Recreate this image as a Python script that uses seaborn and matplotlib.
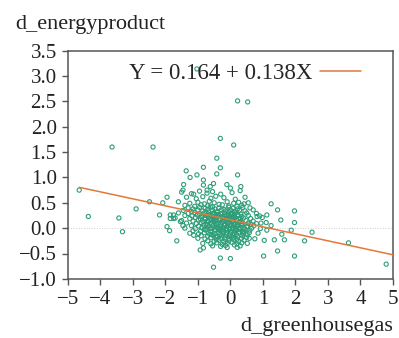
import numpy as np
import pandas as pd
import matplotlib
matplotlib.use("Agg")
import matplotlib.pyplot as plt
import seaborn as sns

# ---- data ----
# scattered points away from the central cloud
gh_outer = [-4.65, -4.37, -3.64, -3.43, -3.32, -2.90, -2.49, -2.38, -2.18, -2.08,
            -1.95, -1.95, -1.87, -1.85, -1.75, -1.85, -1.75, -1.65, -1.03, 0.22,
            0.53, -0.31, 0.10, -0.42, -1.36, -0.83, -0.31, -1.24, -1.03, -0.42,
            0.22, -0.83, -0.83, -1.44, -1.46, -0.11, 0.00, 0.32, -0.62, -0.72,
            -0.52, -0.52, -0.31, 0.00, -0.93, -0.83, -0.10, 0.21, 1.02, 1.25,
            1.12, 1.04, 1.25, 1.35, 1.45, 1.45, 1.55, 1.58, 1.66, 1.87,
            1.97, 1.97, 1.97, 2.28, 2.51, 3.63, 4.79, -1.13, -1.13, -1.54,
            -1.46, 0.82, 0.94, 1.12, 0.58, 0.52, 0.62]
ep_outer = [0.75, 0.23, 1.60, 0.20, -0.07, 0.38, 0.52, 1.60, 0.26, 0.50,
            0.61, 0.03, -0.05, 0.26, 0.26, 0.19, 0.19, -0.25, 3.14, 2.51,
            2.49, 1.77, 1.64, 1.38, 1.13, 1.20, 1.19, 1.00, 1.05, 1.07,
            1.05, 0.95, 0.85, 0.86, 0.75, 0.86, 0.79, 0.82, 0.82, 0.75,
            0.88, -0.77, -0.59, -0.60, -0.43, -0.39, -0.38, -0.38, -0.55, 0.48,
            0.26, -0.24, 0.05, -0.23, 0.36, -0.45, 0.16, -0.12, -0.23, -0.04,
            0.34, 0.11, -0.55, -0.25, -0.08, -0.29, -0.71, -0.14, 0.67, 0.13,
            0.05, 0.23, 0.10, -0.04, -0.20, -0.30, 0.08]

# dense cloud around the origin
gh_core = [-1.50, -1.20, -0.95, -0.72, -0.55, -0.30, 0.05, 0.30,
           -1.35, -1.05, -0.85, -0.60, -0.45, -0.20, 0.15, 0.45,
           -1.60, -1.25, -1.00, -0.80, -0.65, -0.50, -0.35, -0.10, 0.10, 0.25, 0.42, 0.55,
           -1.40, -1.10, -0.90, -0.70, -0.55, -0.25, -0.05, 0.20, 0.35,
           -1.30, -1.15, -0.95, -0.78, -0.62, -0.48, -0.35, -0.20, -0.05, 0.08, 0.22, 0.38, 0.60,
           -1.45, -1.20, -1.00, -0.85, -0.70, -0.55, -0.40, -0.28, -0.15, 0.00, 0.12, 0.28, 0.45, 0.70,
           -1.60, -1.30, -1.10, -0.95, -0.80, -0.66, -0.52, -0.40, -0.30, -0.18, -0.05, 0.05, 0.18, 0.32, 0.50, 0.80,
           -1.40, -1.18, -1.02, -0.88, -0.74, -0.60, -0.48, -0.36, -0.24, -0.12, 0.00, 0.10, 0.22, 0.35, 0.55, 0.90,
           -1.70, -1.25, -1.08, -0.92, -0.78, -0.64, -0.52, -0.42, -0.30, -0.20, -0.08, 0.04, 0.14, 0.26, 0.40, 0.62, 0.98,
           -1.50, -1.15, -0.98, -0.84, -0.70, -0.58, -0.46, -0.34, -0.22, -0.12, -0.02, 0.08, 0.20, 0.32, 0.48, 0.70,
           -1.35, -1.05, -0.90, -0.75, -0.62, -0.50, -0.38, -0.26, -0.16, -0.06, 0.04, 0.14, 0.26, 0.38, 0.55, 0.80, 1.10,
           -1.20, -0.98, -0.82, -0.68, -0.54, -0.42, -0.30, -0.20, -0.10, 0.00, 0.10, 0.20, 0.34, 0.50, 0.72,
           -1.40, -1.08, -0.88, -0.72, -0.58, -0.44, -0.32, -0.22, -0.12, -0.02, 0.08, 0.18, 0.30, 0.45, 0.65, 0.92,
           -1.15, -0.92, -0.76, -0.60, -0.46, -0.34, -0.22, -0.10, 0.02, 0.14, 0.28, 0.42, 0.60,
           -1.25, -0.98, -0.80, -0.64, -0.50, -0.36, -0.24, -0.12, 0.00, 0.12, 0.26, 0.40, 0.58, 0.85,
           -0.90, -0.70, -0.54, -0.40, -0.28, -0.14, -0.02, 0.10, 0.22, 0.36, 0.52,
           -1.00, -0.78, -0.60, -0.44, -0.30, -0.16, -0.04, 0.08, 0.20, 0.34, 0.50, 0.75,
           -0.70, -0.50, -0.35, -0.20, -0.05, 0.10, 0.25, 0.42,
           -0.85, -0.60, -0.42, -0.25, -0.10, 0.05, 0.20, 0.35,
           -0.55, -0.30, -0.15, 0.12, 0.30]
ep_core = [0.71, 0.68, 0.73, 0.69, 0.72, 0.67, 0.70, 0.74,
           0.61, 0.58, 0.62, 0.59, 0.63, 0.60, 0.57, 0.61,
           0.52, 0.49, 0.51, 0.48, 0.53, 0.50, 0.47, 0.52, 0.49, 0.51, 0.48, 0.50,
           0.45, 0.43, 0.46, 0.44, 0.42, 0.46, 0.44, 0.43, 0.45,
           0.40, 0.38, 0.41, 0.39, 0.42, 0.38, 0.40, 0.37, 0.41, 0.39, 0.38, 0.41, 0.40,
           0.35, 0.33, 0.36, 0.34, 0.37, 0.35, 0.33, 0.36, 0.34, 0.36, 0.33, 0.35, 0.34, 0.36,
           0.30, 0.29, 0.31, 0.28, 0.30, 0.32, 0.29, 0.31, 0.28, 0.30, 0.32, 0.29, 0.31, 0.28, 0.30, 0.29,
           0.25, 0.24, 0.26, 0.23, 0.25, 0.27, 0.24, 0.26, 0.23, 0.25, 0.27, 0.24, 0.26, 0.23, 0.25, 0.24,
           0.20, 0.19, 0.21, 0.18, 0.20, 0.22, 0.19, 0.21, 0.18, 0.20, 0.22, 0.19, 0.21, 0.18, 0.20, 0.19, 0.21,
           0.15, 0.14, 0.16, 0.13, 0.15, 0.17, 0.14, 0.16, 0.13, 0.15, 0.17, 0.14, 0.16, 0.13, 0.15, 0.14,
           0.10, 0.09, 0.11, 0.08, 0.10, 0.12, 0.09, 0.11, 0.08, 0.10, 0.12, 0.09, 0.11, 0.08, 0.10, 0.09, 0.11,
           0.05, 0.04, 0.06, 0.03, 0.05, 0.07, 0.04, 0.06, 0.03, 0.05, 0.07, 0.04, 0.06, 0.03, 0.05,
           0.00, -0.01, 0.01, -0.02, 0.00, 0.02, -0.01, 0.01, -0.02, 0.00, 0.02, -0.01, 0.01, -0.02, 0.00, -0.01,
           -0.05, -0.06, -0.04, -0.07, -0.05, -0.03, -0.06, -0.04, -0.07, -0.05, -0.03, -0.06, -0.04,
           -0.10, -0.11, -0.09, -0.12, -0.10, -0.08, -0.11, -0.09, -0.12, -0.10, -0.08, -0.11, -0.09, -0.10,
           -0.15, -0.16, -0.14, -0.17, -0.15, -0.13, -0.16, -0.14, -0.17, -0.15, -0.13,
           -0.20, -0.21, -0.19, -0.22, -0.20, -0.18, -0.21, -0.19, -0.22, -0.20, -0.18, -0.21,
           -0.25, -0.26, -0.24, -0.27, -0.25, -0.23, -0.26, -0.24,
           -0.30, -0.31, -0.29, -0.32, -0.30, -0.28, -0.31, -0.29,
           -0.35, -0.36, -0.34, -0.33, -0.35]

# extra points in the darkest part of the cloud
gh_dense = [-0.83, -0.67, -0.53, -0.41, -0.29, -0.17, -0.07, 0.03, 0.13, 0.23,
            -0.77, -0.61, -0.47, -0.35, -0.23, -0.11, -0.01, 0.09, 0.19, 0.31,
            -0.71, -0.57, -0.43, -0.31, -0.19, -0.09, 0.01, 0.11, 0.21, 0.33,
            -0.81, -0.63, -0.49, -0.37, -0.27, -0.13, -0.03, 0.07, 0.17, 0.27,
            -0.69, -0.55, -0.39, -0.21, -0.07, 0.05, 0.15, 0.29, 0.41, 0.53,
            -0.59, -0.45, -0.33, -0.15, 0.03, 0.19, 0.37]
ep_dense = [0.275, 0.265, 0.28, 0.27, 0.285, 0.26, 0.275, 0.27, 0.28, 0.265,
            0.175, 0.185, 0.17, 0.18, 0.165, 0.19, 0.175, 0.18, 0.17, 0.185,
            0.075, 0.085, 0.07, 0.08, 0.065, 0.09, 0.075, 0.08, 0.07, 0.085,
            -0.025, -0.015, -0.03, -0.02, -0.035, -0.01, -0.025, -0.02, -0.03, -0.015,
            0.125, 0.225, 0.025, -0.075, 0.125, 0.225, 0.025, 0.125, -0.075, 0.025,
            -0.125, -0.175, -0.125, -0.225, -0.175, -0.125, -0.075]

# fitted line (intercept and slope as drawn)
fit_intercept = 0.164
fit_slope = -0.138
fit_label = "Y = 0.164 + 0.138X"

x_ticks = [-5, -4, -3, -2, -1, 0, 1, 2, 3, 4, 5]
y_ticks = [-1.0, -0.5, 0.0, 0.5, 1.0, 1.5, 2.0, 2.5, 3.0, 3.5]

green = "#2e9e78"
orange = "#e2793a"
frame = "#555555"

df = pd.DataFrame({"d_greenhousegas": gh_outer + gh_core + gh_dense,
                   "d_energyproduct": ep_outer + ep_core + ep_dense})

sns.set_theme(style="white")
plt.rcParams["font.family"] = ["Liberation Serif", "DejaVu Serif"]

fig = plt.figure(figsize=(3.99, 3.38), dpi=100)
ax = fig.add_axes([0.170, 0.175, 0.815, 0.675])

ax.axhline(0, color="#cccccc", lw=0.7, ls=":", zorder=0)

sns.scatterplot(data=df, x="d_greenhousegas", y="d_energyproduct", ax=ax,
                facecolor="none", edgecolor=green, s=9, linewidth=0.8, zorder=2)

xs = np.array([df["d_greenhousegas"].min(), x_ticks[-1]])
line = pd.DataFrame({"x": xs, "y": fit_intercept + fit_slope * xs})
sns.lineplot(data=line, x="x", y="y", ax=ax, color=orange, lw=1.1,
             label=fit_label, zorder=3)

ax.set_xlim(x_ticks[0], x_ticks[-1])
ax.set_ylim(y_ticks[0], y_ticks[-1])
ax.set_xticks(x_ticks)
ax.set_yticks(y_ticks)
ax.set_yticklabels([f"{v:.1f}".replace("-", "\u2212") for v in y_ticks])
ax.set_xlabel("")
ax.set_ylabel("")
ax.tick_params(axis="both", direction="out", length=4, width=1, color=frame,
               labelsize=15, labelcolor="#222222", pad=4, bottom=True, left=True)
for sp in ax.spines.values():
    sp.set_color(frame)
    sp.set_linewidth(1.1)

ax.legend(loc="upper center", bbox_to_anchor=(0.545, 1.035), frameon=False,
          markerfirst=False, fontsize=16.5, handlelength=1.8, handletextpad=0.3)

fig.text(15 / 399, 1 - 25 / 338, "d_energyproduct", fontsize=16,
         color="#222222", va="center", ha="left")
fig.text(393 / 399, 1 - 326 / 338, "d_greenhousegas", fontsize=16,
         color="#222222", va="center", ha="right")

fig.savefig("out.png", dpi=100)
